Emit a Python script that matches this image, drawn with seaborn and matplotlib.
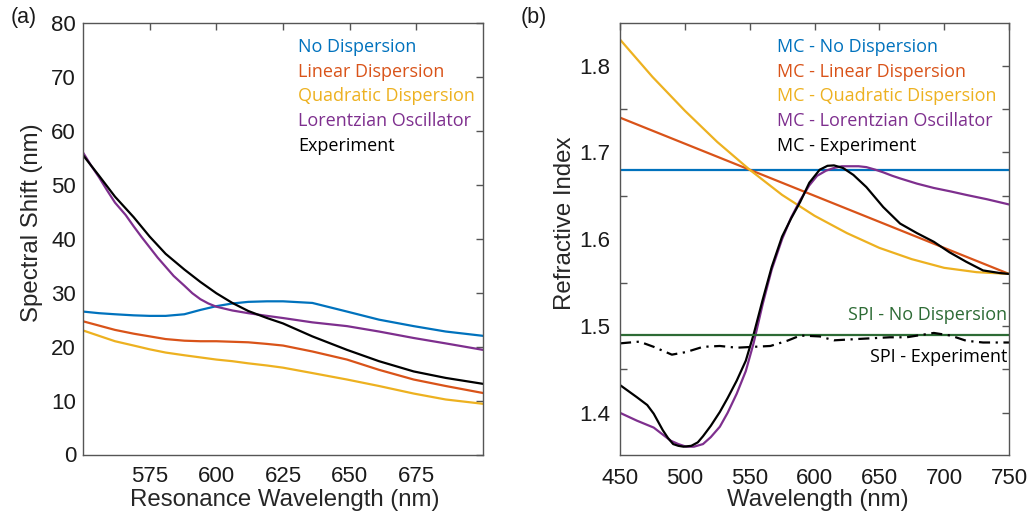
import numpy as np
import pandas as pd
import matplotlib
matplotlib.use("Agg")
import matplotlib.pyplot as plt
from matplotlib.ticker import MultipleLocator
import seaborn as sns

# ---------------- data: panel (a) ----------------
wl_a = [550, 556, 562, 569, 575, 581, 588, 594, 600, 606, 612, 619, 625, 636, 649, 661, 674, 686, 700]
shift_none = [26.5, 26.2, 26.0, 25.8, 25.7, 25.7, 26.0, 26.8, 27.5, 28.0, 28.3, 28.4, 28.4, 28.1, 26.5, 25.0, 23.8, 22.8, 22.0]
shift_linear = [24.7, 23.9, 23.1, 22.4, 21.9, 21.4, 21.1, 21.0, 21.0, 20.9, 20.8, 20.5, 20.2, 19.1, 17.6, 15.7, 13.9, 12.7, 11.4]
shift_quad = [23.0, 22.0, 21.0, 20.2, 19.5, 18.9, 18.4, 18.0, 17.6, 17.3, 16.9, 16.5, 16.1, 15.1, 13.9, 12.7, 11.3, 10.2, 9.4]
shift_exp = [55.5, 51.7, 47.8, 44.0, 40.4, 37.2, 34.3, 32.0, 29.9, 28.1, 26.6, 25.3, 24.3, 21.9, 19.4, 17.3, 15.4, 14.2, 13.1]
wl_a_lorentz = [550, 553, 556, 559, 562, 566, 569, 572, 575, 578, 581, 584, 588, 591, 594, 597, 600,
                606, 612, 619, 625, 636, 649, 661, 674, 686, 700]
shift_lorentz = [56.0, 53.6, 51.4, 49.0, 46.7, 44.4, 42.3, 40.3, 38.4, 36.5, 34.8, 33.1, 31.3, 29.9, 28.8, 28.0, 27.4,
                 26.7, 26.2, 25.7, 25.3, 24.5, 23.8, 22.8, 21.6, 20.6, 19.4]
labels_a = ["No Dispersion", "Linear Dispersion", "Quadratic Dispersion", "Lorentzian Oscillator", "Experiment"]

# ---------------- data: panel (b) ----------------
wl_mc_none = [450, 750]
n_mc_none = [1.68, 1.68]
wl_mc_linear = [450, 550, 650, 750]
n_mc_linear = [1.74, 1.68, 1.62, 1.56]
wl_mc_quad = [450, 475, 500, 525, 550, 575, 600, 625, 650, 675, 700, 725, 750]
n_mc_quad = [1.830, 1.787, 1.748, 1.712, 1.680, 1.651, 1.627, 1.607, 1.590, 1.577, 1.567, 1.562, 1.560]
wl_mc_lorentz = [450, 463, 476, 489, 495, 501, 507, 514, 520, 527, 533, 540, 547, 553, 560, 567, 575, 582,
                 589, 596, 602, 609, 615, 621, 627, 634, 640, 647, 653, 660, 666, 679, 692, 705, 717, 733, 750]
n_mc_lorentz = [1.400, 1.391, 1.383, 1.368, 1.364, 1.361, 1.361, 1.364, 1.372, 1.384, 1.400, 1.422, 1.448, 1.480,
                1.525, 1.565, 1.600, 1.625, 1.645, 1.662, 1.673, 1.679, 1.682, 1.684, 1.684, 1.684, 1.683, 1.680,
                1.677, 1.673, 1.670, 1.664, 1.659, 1.655, 1.651, 1.646, 1.640]
wl_mc_exp = [450, 463, 471, 476, 483, 487, 491, 495, 499, 505, 510, 514, 520, 527, 533, 540, 547, 553, 560, 567,
             575, 582, 589, 596, 604, 610, 615, 622, 630, 640, 653, 666, 679, 692, 704, 717, 730, 743, 750]
n_mc_exp = [1.432, 1.418, 1.409, 1.399, 1.380, 1.371, 1.364, 1.362, 1.361, 1.362, 1.366, 1.373, 1.385, 1.401,
            1.417, 1.437, 1.460, 1.490, 1.530, 1.568, 1.603, 1.624, 1.643, 1.665, 1.680, 1.6845, 1.685, 1.682,
            1.674, 1.660, 1.637, 1.618, 1.607, 1.597, 1.585, 1.574, 1.564, 1.561, 1.560]
wl_spi_none = [450, 750]
n_spi_none = [1.49, 1.49]
wl_spi_exp = [450, 465, 476, 490, 501, 514, 527, 540, 553, 566, 579, 589, 604, 615, 633, 658, 671, 692, 705, 717, 730, 750]
n_spi_exp = [1.480, 1.482, 1.476, 1.467, 1.470, 1.476, 1.477, 1.475, 1.476, 1.477, 1.483, 1.489, 1.488, 1.4835,
             1.485, 1.487, 1.487, 1.492, 1.489, 1.483, 1.481, 1.481]
labels_b = ["MC - No Dispersion", "MC - Linear Dispersion", "MC - Quadratic Dispersion",
            "MC - Lorentzian Oscillator", "MC - Experiment"]
labels_spi = ["SPI - No Dispersion", "SPI - Experiment"]

# ---------------- style ----------------
sns.set_theme(style="white")
plt.rcParams.update({
    "font.family": ["Liberation Sans", "DejaVu Sans"],
    "xtick.direction": "in",
    "ytick.direction": "in",
    "xtick.top": True,
    "ytick.right": True,
    "axes.edgecolor": "#555555",
    "axes.linewidth": 1.0,
    "xtick.color": "#555555",
    "ytick.color": "#555555",
    "xtick.labelcolor": "#1a1a1a",
    "ytick.labelcolor": "#1a1a1a",
})

c_blue = "#0072BD"
c_red = "#D95319"
c_yellow = "#EDB120"
c_purple = "#7E2F8E"
c_black = "#000000"
c_green = "#2D6B35"
colors = [c_blue, c_red, c_yellow, c_purple, c_black]

lw = 1.6
tick_fs = 16
label_fs = 17.3
leg_fs = 13
leg_font = ["Open Sans", "DejaVu Sans"]

fig = plt.figure(figsize=(10.33, 5.16), dpi=100)
ax1 = fig.add_axes([83 / 1033, 1 - 454.5 / 516, 400 / 1033, 431.5 / 516])
ax2 = fig.add_axes([620 / 1033, 1 - 454.5 / 516, 389 / 1033, 431.5 / 516])


def ax_y(px):
    return 1 - (px - 23) / 431.5


# ---------------- panel (a) ----------------
series_a = [(wl_a, shift_none), (wl_a, shift_linear), (wl_a, shift_quad),
            (wl_a_lorentz, shift_lorentz), (wl_a, shift_exp)]
for (x, vals), col in zip(series_a, colors):
    df = pd.DataFrame({"wl": x, "shift": vals})
    sns.lineplot(data=df, x="wl", y="shift", ax=ax1, color=col, linewidth=lw,
                 estimator=None, sort=True)

ax1.set_xlim(550, 700)
ax1.set_ylim(0, 80)
ax1.yaxis.set_major_locator(MultipleLocator(10))
ax1.set_xticks([575, 600, 625, 650, 675])
ax1.tick_params(axis="both", which="major", length=5, width=1, labelsize=tick_fs)
ax1.tick_params(axis="x", pad=8)
ax1.tick_params(axis="y", pad=5)
ax1.set_xlabel("Resonance Wavelength (nm)", fontsize=label_fs)
ax1.set_ylabel("Spectral Shift (nm)", fontsize=label_fs)
ax1.xaxis.set_label_coords((285 - 83) / 400, ax_y(500))
ax1.xaxis.label.set_va("center")
ax1.yaxis.set_label_coords((32 - 83) / 400, ax_y(223))
ax1.yaxis.label.set_va("center")

for i, (lab, col) in enumerate(zip(labels_a, colors)):
    y_px = 47 + i * 24.7
    ax1.text((298 - 83) / 400, ax_y(y_px), lab, color=col, fontsize=leg_fs,
             family=leg_font, transform=ax1.transAxes, ha="left", va="center")

fig.text(11 / 1033, 1 - 18 / 516, "(a)", fontsize=15.5, ha="left", va="center", color="#1a1a1a")

# ---------------- panel (b) ----------------
series_b = [(wl_mc_none, n_mc_none), (wl_mc_linear, n_mc_linear), (wl_mc_quad, n_mc_quad),
            (wl_mc_lorentz, n_mc_lorentz), (wl_mc_exp, n_mc_exp)]
for (x, y), col in zip(series_b, colors):
    df = pd.DataFrame({"wl": x, "n": y})
    sns.lineplot(data=df, x="wl", y="n", ax=ax2, color=col, linewidth=lw,
                 estimator=None, sort=True)

df_spi = pd.DataFrame({"wl": wl_spi_none, "n": n_spi_none})
sns.lineplot(data=df_spi, x="wl", y="n", ax=ax2, color=c_green, linewidth=lw, estimator=None)
df_spie = pd.DataFrame({"wl": wl_spi_exp, "n": n_spi_exp})
sns.lineplot(data=df_spie, x="wl", y="n", ax=ax2, color=c_black, linewidth=lw, estimator=None)
ax2.lines[-1].set_dashes((5, 2.5, 1, 2.5))

ax2.set_xlim(450, 750)
ax2.set_ylim(1.352, 1.849)
ax2.xaxis.set_major_locator(MultipleLocator(50))
ax2.yaxis.set_minor_locator(MultipleLocator(0.05))
ax2.set_yticks([1.4, 1.5, 1.6, 1.7, 1.8])
ax2.set_yticklabels(["1.4", "1.5", "1.6", "1.7", "1.8"])
ax2.tick_params(axis="both", which="major", length=5, width=1, labelsize=tick_fs)
ax2.tick_params(axis="y", which="minor", length=5, width=1, left=True, right=True)
ax2.tick_params(axis="x", pad=10)
ax2.tick_params(axis="y", pad=7)
ax2.set_xlabel("Wavelength (nm)", fontsize=label_fs)
ax2.set_ylabel("Refractive Index", fontsize=label_fs)
ax2.xaxis.set_label_coords((818 - 620) / 389, ax_y(500))
ax2.xaxis.label.set_va("center")
ax2.yaxis.set_label_coords((565 - 620) / 389, ax_y(223))
ax2.yaxis.label.set_va("center")

for i, (lab, col) in enumerate(zip(labels_b, colors)):
    y_px = 47 + i * 24.7
    ax2.text((777 - 620) / 389, ax_y(y_px), lab, color=col, fontsize=leg_fs,
             family=leg_font, transform=ax2.transAxes, ha="left", va="center")

ax2.text((1007 - 620) / 389, ax_y(315), labels_spi[0], color=c_green, fontsize=leg_fs,
         family=leg_font, transform=ax2.transAxes, ha="right", va="center")
ax2.text((1007 - 620) / 389, ax_y(357), labels_spi[1], color=c_black, fontsize=leg_fs,
         family=leg_font, transform=ax2.transAxes, ha="right", va="center")

fig.text(521 / 1033, 1 - 18 / 516, "(b)", fontsize=15.5, ha="left", va="center", color="#1a1a1a")

for ax in (ax1, ax2):
    for s in ax.spines.values():
        s.set_visible(True)

fig.savefig("out.png", dpi=100)
